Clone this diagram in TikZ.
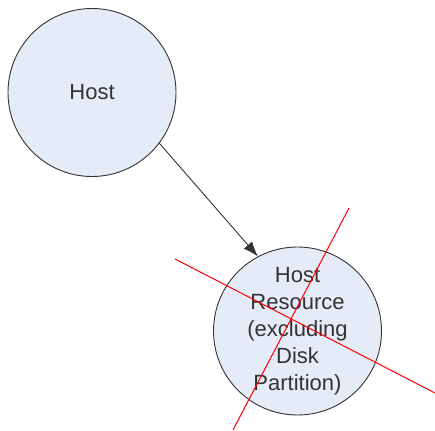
\documentclass[tikz,border=0pt]{standalone}
\usepackage{fontspec}
\setmainfont{Liberation Sans}
\usetikzlibrary{arrows.meta}
\definecolor{nodefill}{HTML}{E6ECF7}
\definecolor{edgegray}{HTML}{333333}
\tikzset{
  entity/.style={circle, draw=edgegray, line width=0.9pt, fill=nodefill,
    minimum size=168pt, inner sep=0pt, align=center,
    font=\fontsize{22pt}{27pt}\selectfont, text=black!80},
  link/.style={draw=edgegray, line width=0.9pt, -{Latex[length=15pt,width=11pt]}},
  cross/.style={draw=red, line width=1pt}
}
\begin{document}
\begin{tikzpicture}[x=1pt,y=-1pt]
\useasboundingbox (0,0) rectangle (435,430);
\node[entity] (host) at (92,92.5) {Host};
\node[entity] (res) at (297.5,331) {Host\\Resource\\(excluding\\Disk\\Partition)};
\draw[link] (host.-37.5) -- (res.118.4);
\coordinate (c1a) at (349,208);
\coordinate (c1b) at (233,430);
\coordinate (c2a) at (175,259);
\coordinate (c2b) at (435,393);
\draw[cross] (c1a) -- (c1b);
\draw[cross] (c2a) -- (c2b);
\end{tikzpicture}
\end{document}
